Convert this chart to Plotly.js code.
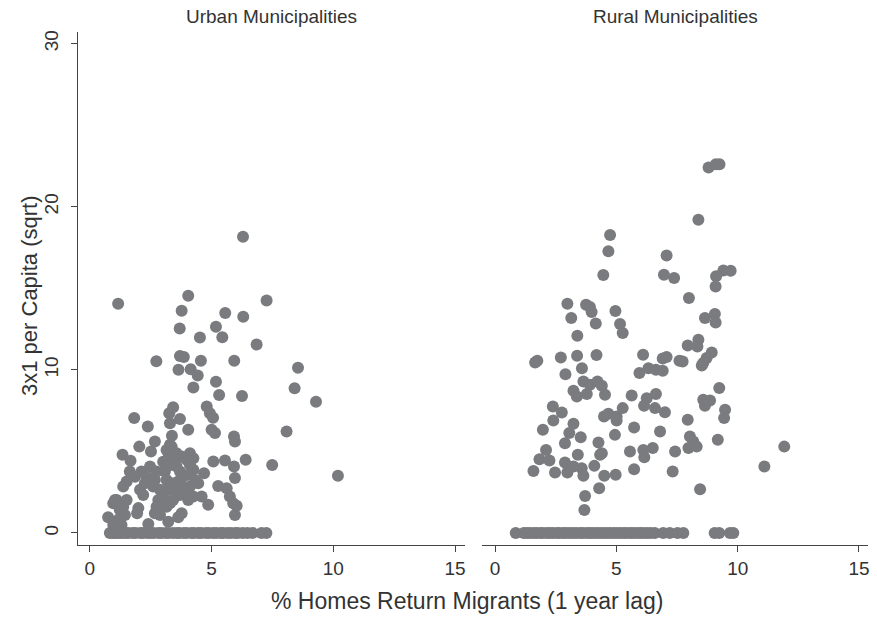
<!DOCTYPE html>
<html>
<head>
<meta charset="utf-8">
<script src="https://cdn.plot.ly/plotly-3.0.1.min.js"></script>
<style>html,body{margin:0;padding:0;background:#fff;}#chart{width:877px;height:617px;}</style>
</head>
<body>
<div id="chart"></div>
<script>
// Urban municipalities (x: % homes return migrants, y: 3x1 per capita sqrt)
var urbanX = [1.16,4.04,7.26,3.77,5.56,6.30,3.69,5.18,4.52,5.44,6.85,2.73,3.70,3.86,4.56,5.93,8.55,3.64,4.14,4.43,
  5.18,4.25,8.41,5.31,6.25,9.29,3.42,3.26,4.80,4.93,1.82,3.70,5.06,2.38,3.29,4.04,5.00,5.14,5.92,5.96,
  3.37,2.67,3.29,2.03,2.51,1.34,1.67,3.15,3.29,3.49,4.11,4.25,5.07,5.55,6.40,7.49,5.92,5.96,8.08,10.19,
  4.69,4.45,5.27,5.62,5.75,5.89,5.96,6.03,4.86,4.59,3.77,3.63,3.22,2.40,1.99,1.94,0.75,0.96,1.37,1.23,
  0.96,1.10,1.64,1.85,1.51,1.37,2.12,2.33,2.26,2.06,2.19,2.47,2.74,2.67,2.60,2.88,2.81,3.01,3.22,3.29,
  3.08,3.15,3.36,3.22,3.01,2.95,3.15,2.81,3.56,3.70,3.83,3.63,3.77,3.49,3.70,3.42,3.29,4.11,4.25,4.04,
  4.32,4.11,3.97,4.25,4.04,1.03,1.16,1.37,1.51,1.23,1.44,1.16,1.30,2.74,2.67,2.88,3.36,3.56,3.77,3.97,
  6.29,
  0.82,0.93,1.01,1.12,1.24,1.33,1.47,1.58,1.76,1.88,2.07,2.18,2.36,2.49,2.63,2.82,2.94,3.12,3.23,3.41,
  3.57,3.68,3.86,3.98,4.17,4.28,4.46,4.58,4.77,4.88,5.06,5.19,5.37,5.48,5.66,5.79,5.97,6.08,6.28,6.47,6.68,7.05,7.25];
var urbanY = [14.05,14.54,14.25,13.62,13.48,13.25,12.53,12.64,11.98,12.00,11.55,10.53,10.84,10.78,10.55,10.55,10.12,10.00,10.04,9.65,
  9.26,8.91,8.87,8.45,8.40,8.04,7.71,7.34,7.75,7.34,7.04,6.98,7.06,6.52,6.73,6.32,6.32,6.12,5.91,5.60,
  5.95,5.60,5.40,5.29,4.99,4.79,4.42,5.09,4.79,4.58,4.89,4.58,4.38,4.44,4.48,4.17,4.07,3.36,6.22,3.50,
  3.66,3.05,2.88,2.74,2.23,1.82,1.10,1.66,1.72,2.23,1.21,0.96,0.69,0.55,1.52,1.21,0.96,0.49,1.10,0.60,
  1.82,2.02,3.76,3.45,3.15,2.84,3.76,3.45,3.05,2.64,2.33,4.07,3.76,3.25,2.84,2.64,2.02,4.37,4.58,4.17,
  3.76,3.25,3.05,2.64,2.23,1.82,1.61,1.31,4.07,3.76,3.45,3.15,2.84,2.64,2.33,2.02,1.82,4.17,3.87,3.56,
  3.25,2.84,2.44,2.23,2.02,2.02,1.72,1.61,2.02,1.41,1.10,0.80,0.49,1.61,1.21,1.10,5.29,4.89,4.68,4.48,
  18.16,
  0,0,0,0,0,0,0,0,0,0,0,0,0,0,0,0,0,0,0,0,
  0,0,0,0,0,0,0,0,0,0,0,0,0,0,0,0,0,0,0,0,0,0,0];

// Rural municipalities
var ruralX = [8.80,9.10,9.25,8.38,7.07,6.96,7.38,9.41,9.71,9.11,9.09,7.99,4.74,4.67,4.46,2.98,3.75,3.91,3.98,4.96,
  3.14,4.15,5.15,5.26,3.39,1.74,1.65,2.71,3.38,4.18,6.10,6.91,7.07,7.60,3.58,2.90,5.95,6.32,6.63,6.91,
  3.64,3.91,4.22,4.40,3.23,3.37,3.78,4.53,5.63,6.25,6.63,2.38,2.75,6.14,6.59,7.00,4.49,4.67,5.01,5.26,
  2.40,1.97,3.23,5.73,6.80,3.06,2.88,3.53,2.10,1.83,2.24,1.58,2.47,2.88,2.98,3.23,3.57,3.64,3.41,4.26,
  4.40,4.33,4.09,4.50,4.97,4.29,3.71,3.68,5.01,4.94,5.56,6.11,6.15,6.50,5.73,7.42,7.32,8.65,9.06,9.09,
  7.94,8.38,8.34,8.93,8.72,8.58,8.52,7.73,9.24,8.58,8.86,8.65,9.48,9.44,7.94,8.03,8.17,8.31,7.97,9.18,
  8.45,11.10,11.92,
  0.85,1.18,1.31,1.44,1.59,1.71,1.86,1.97,2.13,2.26,2.39,2.55,2.66,2.81,2.93,3.08,3.22,3.35,3.51,3.63,
  3.79,3.92,4.04,4.19,4.33,4.47,4.61,4.74,4.89,5.02,5.16,5.31,5.43,5.58,5.71,5.86,5.99,6.12,6.27,6.41,6.58,
  6.93,7.20,7.52,7.76,9.05,9.24,9.68,9.82];
var ruralY = [22.40,22.60,22.60,19.20,17.00,15.83,15.63,16.09,16.07,15.73,15.11,14.40,18.26,17.26,15.81,14.05,13.99,13.85,13.54,13.60,
  13.17,12.84,12.80,12.25,12.09,10.55,10.45,10.76,10.86,10.90,10.92,10.69,10.78,10.55,10.10,9.73,9.80,10.10,10.00,9.94,
  9.28,9.08,9.28,9.02,8.71,8.36,8.51,8.47,8.42,8.26,8.51,7.75,7.38,7.79,7.65,7.40,7.13,7.30,7.13,7.65,
  6.89,6.32,6.69,6.46,6.22,6.12,5.50,5.87,5.09,4.52,4.44,3.80,3.70,4.31,3.70,4.07,3.97,3.50,4.79,5.54,
  4.89,4.79,4.11,3.50,3.56,2.74,2.27,1.41,6.89,6.01,4.99,5.09,4.64,5.20,3.91,4.99,3.76,13.17,13.42,12.90,
  11.49,11.84,11.43,11.06,10.72,10.41,10.26,10.51,8.88,8.16,8.12,7.79,7.55,7.04,6.93,5.91,5.60,5.29,5.20,5.71,
  2.68,4.07,5.29,
  0,0,0,0,0,0,0,0,0,0,0,0,0,0,0,0,0,0,0,0,
  0,0,0,0,0,0,0,0,0,0,0,0,0,0,0,0,0,0,0,0,0,
  0,0,0,0,0,0,0,0];

var panelTitles = ["Urban Municipalities", "Rural Municipalities"];
var xTicks = [0, 5, 10, 15];
var yTicks = [0, 10, 20, 30];
var xTitle = "% Homes Return Migrants (1 year lag)";
var yTitle = "3x1 per Capita (sqrt)";

var FONT = "Liberation Sans, Arial, Helvetica, sans-serif";
var TEXT = "#333";
var markerStyle = {color: "#7a7b7f", size: 12, line: {width: 0}};

var traces = [
  {x: urbanX, y: urbanY, type: "scatter", mode: "markers", marker: markerStyle, xaxis: "x", yaxis: "y", hoverinfo: "x+y"},
  {x: ruralX, y: ruralY, type: "scatter", mode: "markers", marker: markerStyle, xaxis: "x2", yaxis: "y", hoverinfo: "x+y"}
];

function xAxis(domain, range) {
  return {
    domain: domain, range: range, anchor: "y",
    tickmode: "array", tickvals: xTicks, ticktext: xTicks.map(String),
    ticks: "outside", ticklen: 6, tickwidth: 1, tickcolor: "#444",
    showline: true, linecolor: "#444", linewidth: 1,
    showgrid: false, zeroline: false,
    tickfont: {family: FONT, size: 19, color: TEXT}
  };
}

var layout = {
  width: 877, height: 617,
  margin: {l: 0, r: 0, t: 0, b: 0},
  paper_bgcolor: "#fff", plot_bgcolor: "#fff",
  showlegend: false,
  xaxis: xAxis([0.0889, 0.5302], [-0.49, 15.41]),
  xaxis2: xAxis([0.5496, 0.9897], [-0.54, 15.37]),
  yaxis: {
    domain: [0.1167, 0.948], range: [-0.74, 30.7], anchor: "x",
    tickmode: "array", tickvals: yTicks, ticktext: yTicks.map(String),
    ticks: "outside", ticklen: 6, tickwidth: 1, tickcolor: "#444",
    showline: true, linecolor: "#444", linewidth: 1,
    showgrid: false, zeroline: false, tickangle: -90, ticklabelstandoff: 5,
    tickfont: {family: FONT, size: 19, color: TEXT}
  },
  annotations: [
    {text: panelTitles[0], xref: "paper", yref: "paper", x: 271.5/877, y: 1 - 17/617, xanchor: "center", yanchor: "middle", showarrow: false, font: {family: FONT, size: 19, color: TEXT}},
    {text: panelTitles[1], xref: "paper", yref: "paper", x: 675/877, y: 1 - 17/617, xanchor: "center", yanchor: "middle", showarrow: false, font: {family: FONT, size: 19, color: TEXT}},
    {text: xTitle, xref: "paper", yref: "paper", x: 467/877, y: 1 - 601/617, xanchor: "center", yanchor: "middle", showarrow: false, font: {family: FONT, size: 23, color: TEXT}},
    {text: yTitle, xref: "paper", yref: "paper", x: 29/877, y: 1 - 296/617, xanchor: "center", yanchor: "middle", textangle: -90, showarrow: false, font: {family: FONT, size: 22, color: TEXT}}
  ]
};

Plotly.newPlot("chart", traces, layout, {displayModeBar: false, staticPlot: true});
</script>
</body>
</html>
